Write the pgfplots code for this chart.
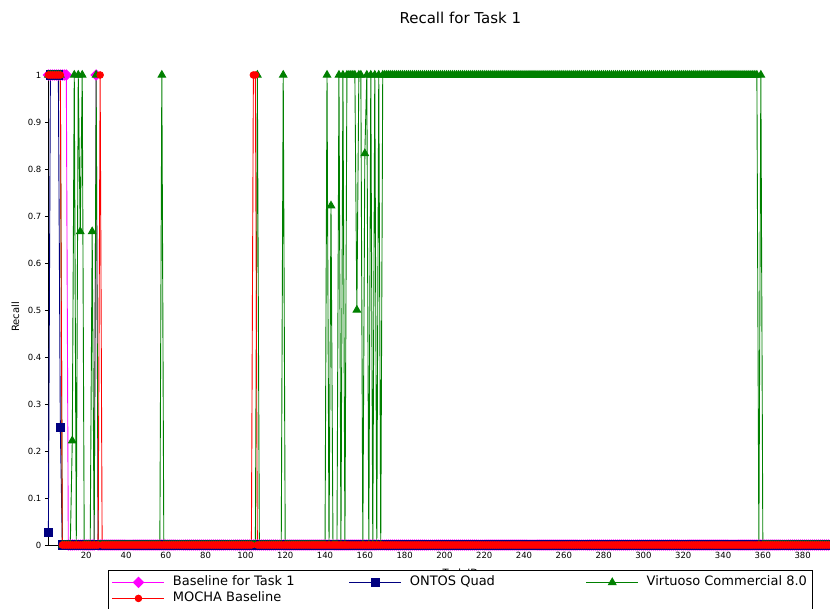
\documentclass[border=0pt]{standalone}
\usepackage{pgfplots}
\pgfplotsset{compat=1.18}
\usepackage{pgfplotstable}
\usepackage{fontspec}
\setmainfont{DejaVu Sans}
\definecolor{cmag}{rgb}{1,0,1}
\definecolor{cnavy}{rgb}{0,0,0.5}
\definecolor{cgreen}{rgb}{0,0.5,0}
\definecolor{cred}{rgb}{1,0,0}

\pgfplotstableread{
x b o v m
1 1 0.027 1 1
2 1 1 1 1
3 1 1 1 1
4 1 1 1 1
5 1 1 1 1
6 1 1 1 1
7 1 0.25 1 1
8 1 0 0 0
9 1 0 0 0
10 1 0 0 0
11 0 0 0 0
12 0 0 0 0
13 0 0 0.222 0
14 0 0 1 0
15 0 0 0 0
16 0 0 1 0
17 0 0 0.667 0
18 0 0 1 0
19 0 0 0 0
20 0 0 0 0
21 0 0 0 0
22 0 0 0 0
23 0 0 0.667 0
24 0 0 0 0
25 1 0 1 0
26 0 0 0 0
27 0 0 0 1
28 0 0 0 0
29 0 0 0 0
30 0 0 0 0
31 0 0 0 0
32 0 0 0 0
33 0 0 0 0
34 0 0 0 0
35 0 0 0 0
36 0 0 0 0
37 0 0 0 0
38 0 0 0 0
39 0 0 0 0
40 0 0 0 0
41 0 0 0 0
42 0 0 0 0
43 0 0 0 0
44 0 0 0 0
45 0 0 0 0
46 0 0 0 0
47 0 0 0 0
48 0 0 0 0
49 0 0 0 0
50 0 0 0 0
51 0 0 0 0
52 0 0 0 0
53 0 0 0 0
54 0 0 0 0
55 0 0 0 0
56 0 0 0 0
57 0 0 0 0
58 0 0 1 0
59 0 0 0 0
60 0 0 0 0
61 0 0 0 0
62 0 0 0 0
63 0 0 0 0
64 0 0 0 0
65 0 0 0 0
66 0 0 0 0
67 0 0 0 0
68 0 0 0 0
69 0 0 0 0
70 0 0 0 0
71 0 0 0 0
72 0 0 0 0
73 0 0 0 0
74 0 0 0 0
75 0 0 0 0
76 0 0 0 0
77 0 0 0 0
78 0 0 0 0
79 0 0 0 0
80 0 0 0 0
81 0 0 0 0
82 0 0 0 0
83 0 0 0 0
84 0 0 0 0
85 0 0 0 0
86 0 0 0 0
87 0 0 0 0
88 0 0 0 0
89 0 0 0 0
90 0 0 0 0
91 0 0 0 0
92 0 0 0 0
93 0 0 0 0
94 0 0 0 0
95 0 0 0 0
96 0 0 0 0
97 0 0 0 0
98 0 0 0 0
99 0 0 0 0
100 0 0 0 0
101 0 0 0 0
102 0 0 0 0
103 0 0 0 0
104 0 0 0 1
105 0 0 0 1
106 0 0 1 0
107 0 0 0 0
108 0 0 0 0
109 0 0 0 0
110 0 0 0 0
111 0 0 0 0
112 0 0 0 0
113 0 0 0 0
114 0 0 0 0
115 0 0 0 0
116 0 0 0 0
117 0 0 0 0
118 0 0 0 0
119 0 0 1 0
120 0 0 0 0
121 0 0 0 0
122 0 0 0 0
123 0 0 0 0
124 0 0 0 0
125 0 0 0 0
126 0 0 0 0
127 0 0 0 0
128 0 0 0 0
129 0 0 0 0
130 0 0 0 0
131 0 0 0 0
132 0 0 0 0
133 0 0 0 0
134 0 0 0 0
135 0 0 0 0
136 0 0 0 0
137 0 0 0 0
138 0 0 0 0
139 0 0 0 0
140 0 0 0 0
141 0 0 1 0
142 0 0 0 0
143 0 0 0.722 0
144 0 0 0 0
145 0 0 0 0
146 0 0 0 0
147 0 0 1 0
148 0 0 0 0
149 0 0 1 0
150 0 0 0 0
151 0 0 1 0
152 0 0 1 0
153 0 0 1 0
154 0 0 1 0
155 0 0 1 0
156 0 0 0.5 0
157 0 0 1 0
158 0 0 1 0
159 0 0 0 0
160 0 0 0.833 0
161 0 0 1 0
162 0 0 0 0
163 0 0 1 0
164 0 0 0 0
165 0 0 1 0
166 0 0 0 0
167 0 0 1 0
168 0 0 0 0
169 0 0 1 0
170 0 0 1 0
171 0 0 1 0
172 0 0 1 0
173 0 0 1 0
174 0 0 1 0
175 0 0 1 0
176 0 0 1 0
177 0 0 1 0
178 0 0 1 0
179 0 0 1 0
180 0 0 1 0
181 0 0 1 0
182 0 0 1 0
183 0 0 1 0
184 0 0 1 0
185 0 0 1 0
186 0 0 1 0
187 0 0 1 0
188 0 0 1 0
189 0 0 1 0
190 0 0 1 0
191 0 0 1 0
192 0 0 1 0
193 0 0 1 0
194 0 0 1 0
195 0 0 1 0
196 0 0 1 0
197 0 0 1 0
198 0 0 1 0
199 0 0 1 0
200 0 0 1 0
201 0 0 1 0
202 0 0 1 0
203 0 0 1 0
204 0 0 1 0
205 0 0 1 0
206 0 0 1 0
207 0 0 1 0
208 0 0 1 0
209 0 0 1 0
210 0 0 1 0
211 0 0 1 0
212 0 0 1 0
213 0 0 1 0
214 0 0 1 0
215 0 0 1 0
216 0 0 1 0
217 0 0 1 0
218 0 0 1 0
219 0 0 1 0
220 0 0 1 0
221 0 0 1 0
222 0 0 1 0
223 0 0 1 0
224 0 0 1 0
225 0 0 1 0
226 0 0 1 0
227 0 0 1 0
228 0 0 1 0
229 0 0 1 0
230 0 0 1 0
231 0 0 1 0
232 0 0 1 0
233 0 0 1 0
234 0 0 1 0
235 0 0 1 0
236 0 0 1 0
237 0 0 1 0
238 0 0 1 0
239 0 0 1 0
240 0 0 1 0
241 0 0 1 0
242 0 0 1 0
243 0 0 1 0
244 0 0 1 0
245 0 0 1 0
246 0 0 1 0
247 0 0 1 0
248 0 0 1 0
249 0 0 1 0
250 0 0 1 0
251 0 0 1 0
252 0 0 1 0
253 0 0 1 0
254 0 0 1 0
255 0 0 1 0
256 0 0 1 0
257 0 0 1 0
258 0 0 1 0
259 0 0 1 0
260 0 0 1 0
261 0 0 1 0
262 0 0 1 0
263 0 0 1 0
264 0 0 1 0
265 0 0 1 0
266 0 0 1 0
267 0 0 1 0
268 0 0 1 0
269 0 0 1 0
270 0 0 1 0
271 0 0 1 0
272 0 0 1 0
273 0 0 1 0
274 0 0 1 0
275 0 0 1 0
276 0 0 1 0
277 0 0 1 0
278 0 0 1 0
279 0 0 1 0
280 0 0 1 0
281 0 0 1 0
282 0 0 1 0
283 0 0 1 0
284 0 0 1 0
285 0 0 1 0
286 0 0 1 0
287 0 0 1 0
288 0 0 1 0
289 0 0 1 0
290 0 0 1 0
291 0 0 1 0
292 0 0 1 0
293 0 0 1 0
294 0 0 1 0
295 0 0 1 0
296 0 0 1 0
297 0 0 1 0
298 0 0 1 0
299 0 0 1 0
300 0 0 1 0
301 0 0 1 0
302 0 0 1 0
303 0 0 1 0
304 0 0 1 0
305 0 0 1 0
306 0 0 1 0
307 0 0 1 0
308 0 0 1 0
309 0 0 1 0
310 0 0 1 0
311 0 0 1 0
312 0 0 1 0
313 0 0 1 0
314 0 0 1 0
315 0 0 1 0
316 0 0 1 0
317 0 0 1 0
318 0 0 1 0
319 0 0 1 0
320 0 0 1 0
321 0 0 1 0
322 0 0 1 0
323 0 0 1 0
324 0 0 1 0
325 0 0 1 0
326 0 0 1 0
327 0 0 1 0
328 0 0 1 0
329 0 0 1 0
330 0 0 1 0
331 0 0 1 0
332 0 0 1 0
333 0 0 1 0
334 0 0 1 0
335 0 0 1 0
336 0 0 1 0
337 0 0 1 0
338 0 0 1 0
339 0 0 1 0
340 0 0 1 0
341 0 0 1 0
342 0 0 1 0
343 0 0 1 0
344 0 0 1 0
345 0 0 1 0
346 0 0 1 0
347 0 0 1 0
348 0 0 1 0
349 0 0 1 0
350 0 0 1 0
351 0 0 1 0
352 0 0 1 0
353 0 0 1 0
354 0 0 1 0
355 0 0 1 0
356 0 0 1 0
357 0 0 1 0
358 0 0 0 0
359 0 0 1 0
360 0 0 0 0
361 0 0 0 0
362 0 0 0 0
363 0 0 0 0
364 0 0 0 0
365 0 0 0 0
366 0 0 0 0
367 0 0 0 0
368 0 0 0 0
369 0 0 0 0
370 0 0 0 0
371 0 0 0 0
372 0 0 0 0
373 0 0 0 0
374 0 0 0 0
375 0 0 0 0
376 0 0 0 0
377 0 0 0 0
378 0 0 0 0
379 0 0 0 0
380 0 0 0 0
381 0 0 0 0
382 0 0 0 0
383 0 0 0 0
384 0 0 0 0
385 0 0 0 0
386 0 0 0 0
387 0 0 0 0
388 0 0 0 0
389 0 0 0 0
390 0 0 0 0
391 0 0 0 0
392 0 0 0 0
393 0 0 0 0
394 0 0 0 0
395 0 0 0 0
396 0 0 0 0
}\recalldata

\begin{document}
\begin{tikzpicture}
\begin{axis}[
  scale only axis, width=823.9pt, height=470pt,
  xmin=1, xmax=415, ymin=0, ymax=1,
  axis lines=left, axis line style={-, line width=0.8pt, black},
  clip=false,
  xtick={20,40,...,380},
  ytick={0,0.1,0.2,0.3,0.4,0.5,0.6,0.7,0.8,0.9,1},
  yticklabels={0,0.1,0.2,0.3,0.4,0.5,0.6,0.7,0.8,0.9,1},
  tick align=outside, major tick length=3.5pt,
  tick style={black, line width=0.8pt},
  ticklabel style={font=\fontsize{8.5}{10}\selectfont},
  /pgf/number format/assume math mode=true,
  title={Recall for Task 1},
  title style={at={(axis description cs:0.5,1.108)}, anchor=center, yshift=0pt, font=\fontsize{15}{17}\selectfont},
  xlabel={Task ID},
  xlabel style={at={(axis description cs:0.5,-0.0596)}, anchor=center, font=\fontsize{10}{12}\selectfont},
  ylabel={Recall},
  ylabel style={at={(axis description cs:-0.0401,0.485)}, anchor=center, font=\fontsize{10}{12}\selectfont},
  legend columns=3,
  legend cell align=left,
  legend style={at={(axis description cs:0.5,-0.0532)}, anchor=north, draw=black, line width=0.8pt, fill=white, inner sep=4pt,
    font=\fontsize{13}{15}\selectfont,
    /tikz/every odd column/.append style={column sep=8pt},
    /tikz/every even column/.append style={column sep=6pt},
    nodes={inner xsep=0pt, inner ysep=1.5pt, text height=10pt, text depth=3pt}},
  legend image code/.code={\draw[mark repeat=2,mark phase=2,#1] plot coordinates {(0pt,0pt) (26pt,0pt) (52pt,0pt)};},
]
\addplot[cmag, line width=0.9pt, mark=square*, mark size=3.6pt, mark options={rotate=45, solid, fill=cmag, draw=cmag}] table[x=x, y=b] {\recalldata};
\addlegendentry{\makebox[170pt][l]{Baseline for Task 1}}
\addplot[cnavy, line width=0.9pt, mark=square*, mark size=4.2pt, mark options={solid, fill=cnavy, draw=cnavy}] table[x=x, y=o] {\recalldata};
\addlegendentry{\makebox[170pt][l]{ONTOS Quad}}
\addplot[cgreen, line width=0.9pt, mark=triangle*, mark size=4.3pt, mark options={solid, fill=cgreen, draw=cgreen}] table[x=x, y=v] {\recalldata};
\addlegendentry{\makebox[162pt][l]{Virtuoso Commercial 8.0}}
\addplot[cred, line width=0.9pt, mark=*, mark size=3.3pt, mark options={solid, fill=cred, draw=cred}] table[x=x, y=m] {\recalldata};
\addlegendentry{\makebox[170pt][l]{MOCHA Baseline}}
\end{axis}
\pgfresetboundingbox
\useasboundingbox (-48.4pt,-63pt) rectangle (781.6pt,545pt);
\end{tikzpicture}
\end{document}
